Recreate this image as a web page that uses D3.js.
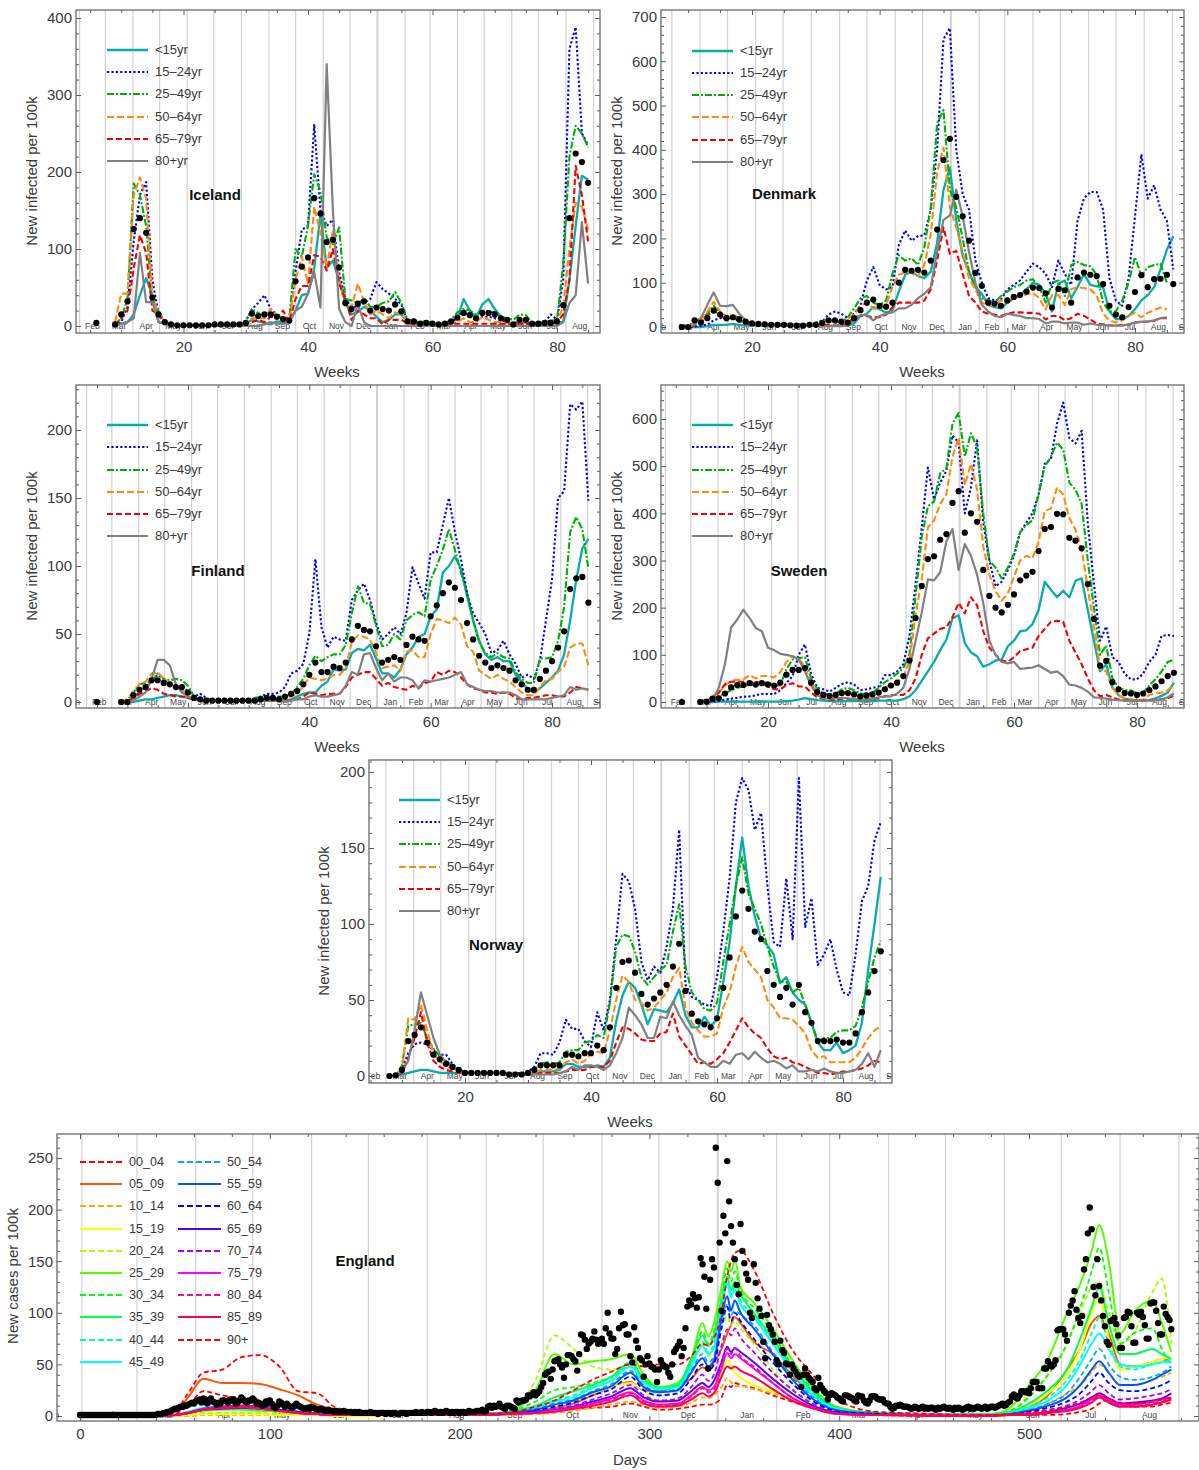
<!DOCTYPE html>
<html><head><meta charset="utf-8">
<style>html,body{margin:0;padding:0;background:#fff}text{font-family:"Liberation Sans",Arial,sans-serif}</style>
<script src="https://cdnjs.cloudflare.com/ajax/libs/d3/7.8.5/d3.min.js"></script>
</head><body><svg id="c" width="1199" height="1470"></svg>
<script>
// ---------- shared labels ----------
const ageLabels=["<15yr","15–24yr","25–49yr","50–64yr","65–79yr","80+yr"];
const monthNames=["Jan","Feb","Mar","Apr","May","Jun","Jul","Aug","Sep","Oct","Nov","Dec","Jan","Feb","Mar","Apr","May","Jun","Jul","Aug","Sep"];
const monthStartDays=[-31,0,29,60,90,121,151,182,213,243,274,304,335,366,394,425,455,486,516,547,578,608];
// ---------- Iceland (weeks 9-85) ----------
const icelandU15=[0,3,5,15,40,62,40,5,3,2,1, 1,1,1,1,1,1,1,1,1,1, 3,8,6,4,2,6,5,5,20,40, 42,75,145,75,85,60,30,15,18,25, 20,12,5,8,15,15,5,5,2,3, 3,2,2,4,10,35,20,10,28,35, 22,12,6,2,5,4,2,2,3,4, 5,5,60,130,195,190];
const iceland1524=[0,5,25,110,170,187,60,15,6,2,1, 1,1,1,1,1,2,2,2,2,3, 6,22,30,40,22,15,8,10,70,125, 130,262,150,130,138,70,35,25,25,30, 35,57,48,42,35,28,5,5,3,5, 3,2,2,5,12,20,12,8,12,12, 10,8,5,3,6,5,3,3,5,15, 8,60,360,388,250,235];
const iceland2549=[2,10,35,185,170,130,35,18,6,2,1, 1,1,1,1,1,1,1,1,1,2, 6,22,17,12,15,15,10,10,100,90, 130,197,175,115,105,128,35,33,30,35, 25,25,30,32,44,30,8,6,5,6, 4,3,4,8,18,22,20,15,20,18, 18,12,10,8,15,14,4,4,5,7, 8,80,220,260,250,232];
const iceland5064=[5,42,42,170,193,165,40,15,5,2,1, 1,1,1,1,1,1,1,1,1,2, 3,10,10,10,22,15,8,8,60,90, 55,155,120,75,125,60,25,25,55,32, 15,20,15,10,18,15,5,5,3,3, 3,2,2,3,5,10,5,5,12,8, 5,5,4,2,4,4,2,2,3,5, 6,25,100,160,155,125];
const iceland6579=[0,10,20,75,118,95,20,15,3,2,1, 1,1,1,1,1,1,1,1,1,1, 3,5,8,5,12,10,20,5,35,52, 52,92,90,72,100,55,35,8,20,15, 10,10,2,8,8,8,3,3,2,3, 2,2,2,3,3,3,3,3,3,3, 3,3,3,2,3,3,2,2,3,3, 5,15,60,208,170,110];
const iceland80=[0,3,5,10,95,31,31,5,3,1,1, 1,1,1,1,1,1,1,1,1,0, 0,0,0,2,5,3,3,5,20,25, 42,70,24,340,150,22,5,0,28,5, 0,0,0,0,0,0,0,0,0,0, 0,0,0,0,0,0,0,0,0,0, 0,0,0,0,0,0,0,0,0,0, 0,5,30,40,135,55];
const icelandDots=[4,null,null,2,15,32,126,140,121,37,15,5,2,1, 1,1,1,1,1,2,2,2,2,2, 4,16,13,15,15,12,9,7,58,77, 89,166,146,109,112,76,30,22,29,32, 20,24,22,20,28,19,6,6,3,4, 3,2,3,6,11,17,14,10,17,17, 15,10,8,2,8,8,3,3,4,4, 6,27,140,224,213,186];
// ---------- Denmark (weeks 9-86) ----------
const denmarkU15=[0,0,0,0,2,5,5,5,7,5,3, 3,3,3,3,3,3,3,3,4,4, 4,3,3,3,3,3,8,25,30,45, 40,32,38,80,118,125,115,110,125,190, 310,360,240,160,125,90,75,50,45,42, 55,65,72,85,100,95,75,35,98,105, 65,90,120,95,92,90,35,18,18,25, 40,60,72,90,130,175,205];
const denmark1524=[0,0,1,3,5,15,20,22,20,15,10, 8,7,6,6,6,6,6,6,6,6, 7,12,28,35,30,20,30,50,105,135, 95,85,90,185,218,195,205,207,265,400, 650,675,400,300,265,150,100,65,60,62, 85,95,105,125,143,135,120,90,150,120, 95,240,290,305,305,265,110,60,48,110, 250,390,290,320,265,240,130];
const denmark2549=[0,3,12,20,30,48,30,25,25,22,12, 8,7,6,6,6,5,5,5,5,5, 10,15,17,13,10,22,42,65,70,55, 50,60,120,162,150,155,140,180,270,460, 490,310,270,200,125,90,65,60,55,70, 80,90,95,105,108,90,55,100,105,70, 140,147,140,137,118,55,35,35,60,100, 158,115,135,140,143,100];
const denmark5064=[0,0,10,15,35,57,35,22,25,15,10, 8,7,6,6,5,5,5,5,4,4, 8,13,13,10,8,18,30,48,55,42, 40,50,90,118,123,122,115,140,210,350, 405,270,225,170,110,85,55,50,48,60, 55,62,70,74,77,65,40,72,72,50, 85,90,88,85,72,30,15,10,15,25, 32,22,32,38,44,40];
const denmark6579=[0,0,3,10,25,38,25,18,22,12,8, 5,5,4,4,4,4,3,3,3,3, 4,5,5,3,3,8,22,25,25,22, 22,28,45,55,55,55,55,60,85,150, 225,165,172,120,70,55,35,30,28,25, 30,33,33,32,32,30,17,25,25,15, 20,30,25,17,8,6,4,3,5,5, 10,12,12,14,20,20];
const denmark80=[0,0,5,20,50,78,48,47,50,30,15, 8,6,5,5,5,4,4,4,3,3, 2,2,2,2,2,3,15,27,27,15, 25,30,33,42,42,50,65,75,90,170, 242,252,310,250,170,100,50,35,25,22, 30,27,25,20,20,18,8,12,12,8, 10,10,5,8,5,5,3,3,3,6, 10,12,12,15,20,22];
const denmarkDots=[0,0,15,10,20,37,28,20,22,17,12, 8,7,6,5,5,5,4,3,3,5, 5,9,15,15,12,10,20,38,55,62, 48,46,55,100,129,127,129,123,150,220, 377,425,294,250,195,122,93,55,53,48, 60,68,72,80,89,88,76,44,86,83, 55,112,123,118,115,97,48,28,22,45, 79,117,90,108,109,118,97];
// ---------- Finland (weeks 9-86) ----------
const finlandU15=[0,0,0,1,2,2,3,4,5,5,4, 3,2,1,1,1,1,1,1,1,1, 1,1,1,1,1,1,1,2,4,6, 7,7,12,15,24,23,24,36,39,38, 42,32,21,21,18,24,35,40,48,50, 63,68,95,100,107,98,78,60,45,35, 31,33,30,30,20,15,9,7,10,14, 18,23,35,60,90,113,120];
const finland1524=[0,0,3,7,11,15,20,17,14,11,11, 8,4,6,3,1,1,1,1,1,1, 1,2,4,6,6,7,11,21,23,28, 50,105,55,40,48,46,45,75,82,87, 75,58,46,50,55,50,65,99,87,76, 110,110,130,150,125,105,80,65,58,50, 36,38,45,35,28,18,20,17,30,60, 90,150,155,219,215,221,148];
const finland2549=[0,1,7,13,14,15,21,17,16,17,16, 12,4,2,1,1,1,1,1,1,1, 1,3,4,3,3,4,4,6,11,17, 27,34,30,33,35,35,42,65,85,73, 72,56,41,42,50,46,60,64,66,63, 90,100,112,127,112,95,80,60,44,36, 33,36,33,32,22,17,14,14,32,32, 33,45,70,125,136,127,98];
const finland5064=[0,2,8,13,15,21,22,17,14,12,9, 6,3,1,1,1,1,1,1,1,1, 1,2,1,2,2,2,3,4,6,12, 18,17,16,17,20,20,25,44,49,48, 46,36,25,26,27,23,37,38,33,33, 50,61,60,58,62,57,41,37,23,20, 17,20,17,15,11,7,5,5,11,16, 17,22,26,40,43,43,27];
const finland6579=[0,0,3,6,8,10,9,6,5,4,4, 3,2,1,1,1,1,1,1,1,1, 1,1,1,1,1,1,1,1,2,4, 7,6,5,6,6,6,11,18,20,22, 22,17,12,14,11,10,9,12,10,14, 15,22,20,23,22,18,13,10,9,7, 7,6,7,6,3,2,3,3,4,5, 5,4,4,7,11,10,9];
const finland80=[0,0,1,4,7,17,31,31,27,13,7, 4,2,1,1,1,1,1,1,1,1, 1,1,1,1,1,1,1,1,2,2, 4,5,4,4,5,6,12,22,20,35, 36,25,16,21,15,18,18,16,10,16, 15,16,17,18,20,22,13,11,9,8, 8,7,7,7,5,2,2,2,2,2, 3,4,5,11,9,10,9];
const finlandDots=[0,null,null,null,0,0,5,9,11,16,16,14,13,11,11, 7,3,2,1,1,1,1,1,1,1, 1,1,2,3,3,2,4,6,8,13, 20,29,22,22,26,25,29,46,56,53, 52,41,29,31,33,31,42,48,46,45, 63,71,80,88,84,75,58,46,34,29, 25,27,25,23,16,13,9,9,17,23, 30,40,52,83,91,92,73];
// ---------- Sweden (weeks 9-86) ----------
const swedenU15=[0,0,0,1,1,1,1,1,1,1,1, 1,1,1,2,3,5,8,6,4,3, 2,2,2,2,2,2,2,2,3,3, 3,3,6,12,25,45,65,85,110,132, 177,184,125,105,97,75,80,88,90,118, 130,150,152,165,195,255,238,222,236,222, 257,262,195,130,65,80,30,15,7,5, 3,3,4,8,13,20,41];
const sweden1524=[0,0,1,2,5,7,9,11,12,14,17, 17,17,25,40,55,100,122,60,30,27, 22,30,38,42,37,25,27,30,33,57, 57,65,80,140,250,370,497,430,465,490, 565,550,400,455,555,380,300,245,255,280, 310,360,380,400,440,505,515,590,635,560, 548,575,380,250,130,160,95,85,60,48, 48,60,85,100,140,142,140];
const sweden2549=[0,1,7,13,18,25,30,33,37,35,40, 42,35,35,70,90,93,95,50,28,18, 15,18,27,30,25,18,17,20,30,42, 50,60,72,100,225,350,415,425,485,495, 590,613,520,570,540,400,300,285,262,285, 315,360,375,385,440,500,520,550,535,465, 450,420,300,200,100,120,50,30,25,25, 18,20,35,48,65,85,90];
const sweden5064=[0,3,12,20,35,45,47,48,57,50,55, 55,52,63,85,97,92,75,40,22,15, 12,12,18,18,15,10,10,14,20,30, 38,42,55,85,185,260,370,385,420,440, 520,560,460,505,450,330,270,235,215,230, 265,300,310,305,340,405,410,455,440,390, 365,325,240,160,70,65,30,15,7,5, 3,5,15,18,20,25,38];
const sweden6579=[0,2,10,20,38,43,43,43,42,43,40, 33,27,27,36,40,33,33,20,10,7, 5,5,7,7,6,5,5,6,8,12, 15,15,15,25,50,100,135,145,155,158, 180,210,188,222,205,150,115,100,88,85, 95,108,112,115,140,155,170,172,170,130, 105,80,50,25,12,15,10,5,3,3, 3,3,3,4,6,8,14];
const sweden80=[0,0,5,30,80,158,175,196,178,157,150, 115,110,102,100,97,90,65,35,15,8, 7,8,9,8,6,5,5,7,10,12, 12,18,30,70,130,190,260,258,275,340, 367,280,335,310,270,210,130,100,85,82, 85,70,72,73,78,70,62,65,55,37, 35,30,22,10,9,7,5,4,3,3, 3,3,3,4,5,10,18];
const swedenDots=[0,null,null,0,1,7,8,18,31,36,36,40,37,40, 37,35,41,58,68,68,72,41,21,15, 13,15,19,19,16,12,14,16,20,27, 35,41,55,88,178,246,303,309,344,356, 422,447,359,400,382,280,225,200,190,206, 228,258,268,276,320,367,371,399,398,348, 342,326,250,176,77,87,42,27,19,18, 15,18,25,33,44,55,62];
// ---------- Norway (weeks 8-86) ----------
const norwayU15=[0,0,1,2,3,4,4,3,2,2,2,2, 2,2,2,2,2,2,2,2,2,1, 1,2,3,3,3,4,8,8,6,6, 6,7,6,12,36,53,62,58,47,34, 44,43,42,48,57,40,32,32,39,33, 37,62,88,125,157,125,105,90,86,80, 61,65,55,50,47,35,22,17,17,22, 15,17,20,35,70,100,131];
const norway1524=[0,0,5,15,21,22,21,17,14,14,8,4, 3,2,2,2,2,2,2,2,2,2, 3,6,15,15,14,22,37,31,31,23, 19,42,30,50,90,133,128,110,75,63, 72,68,85,110,162,60,52,50,47,46, 65,95,130,180,196,188,162,173,125,88, 85,130,90,196,98,117,73,80,90,70, 55,53,80,115,125,155,167];
const norway2549=[0,0,7,33,34,35,25,18,13,10,7,4, 2,2,2,2,2,2,2,2,2,2, 2,4,8,9,8,9,16,17,17,22, 23,27,25,48,85,93,92,82,65,60, 65,70,73,95,113,72,55,50,44,43, 48,75,100,125,144,120,110,100,85,72, 62,62,55,58,47,35,23,25,25,29, 30,30,33,45,62,78,89];
const norway5064=[0,0,5,38,37,47,30,15,10,6,5,3, 2,2,2,2,2,2,2,2,2,1, 1,2,4,4,4,5,9,11,8,10, 15,16,15,30,50,66,62,50,48,43, 45,50,55,65,71,45,35,30,26,26, 28,45,55,72,85,75,70,65,50,45, 38,38,37,33,28,17,12,13,9,9, 9,9,12,18,25,30,33];
const norway6579=[0,0,2,12,25,42,22,10,6,4,3,2, 2,2,2,2,2,2,1,1,1,1, 1,1,2,2,2,2,3,4,4,4, 6,6,6,10,22,32,31,28,24,23, 23,28,29,41,26,20,14,8,9,8, 11,15,22,30,38,32,28,25,18,13, 11,12,9,8,6,4,2,2,1,2, 3,3,4,5,7,10,9];
const norway80=[0,0,3,10,30,55,40,25,14,9,6,3, 2,2,2,2,2,2,1,1,1,1, 1,1,1,1,1,2,3,6,4,7, 7,6,4,7,15,25,45,40,34,25, 25,39,38,49,40,33,27,12,9,6, 6,10,8,14,15,11,16,12,9,10, 8,5,7,3,3,4,3,5,3,2, 2,3,4,8,15,6,17];
const norwayDots=[0,0.5,4,23,27,32,22,14,11,8,6,4, 2,2,2,2,2,2,2,1,1,1, 2,4,7,7,7,7,14,14,13,15, 15,20,17,32,58,75,76,68,54,47, 51,55,60,72,87,56,41,36,34,32, 38,58,78,105,122,110,95,90,69,60, 52,58,47,60,42,35,23,23,23,24, 22,22,28,42,55,69,82];
// ---------- England ----------
const englandLabels=["00_04","05_09","10_14","15_19","20_24","25_29","30_34","35_39","40_44","45_49","50_54","55_59","60_64","65_69","70_74","75_79","80_84","85_89","90+"];
const englandColors=["#ff0000","#ff5500","#ffaa00","#ffff00","#aaff00","#55ff00","#00ff00","#00ff55","#00ffaa","#00ffff","#00aaff","#0055ff","#0000ff","#5500ff","#aa00ff","#ff00ff","#ff00aa","#ff0055","#ff0000"];
const englandKnots=[0,40,50,57,65,75,85,95,105,115,125,135,150, 180,210,225,240,250,260,270,280,290,297,305,315, 322,328,331,334,338,341,343,345,348,355, 365,375,385, 400,420,450,480,490,500,510,520,527,533,537,542,548,555,565,570,575];
const e0004=[0,0,2,10,24,20,17,15,12,9,6,4,2, 1,1,2,3,5,7,8,9,12,9,6,7, 9,11,11,12,18,30,28,32,30,27, 20,14,9, 4,1,0,0,1,1,1,2,4,7,12,16,12,9,9,11,13];
const e0509=[0,0,4,18,36,32,32,31,26,20,11,6,3, 2,2,3,5,8,12,20,28,33,25,24,30, 36,47,45,52,65,80,88,96,90,72, 60,40,22, 8,3,2,2,3,8,20,45,65,90,97,80,50,48,52,55,52];
const e1014=[0,0,0,0,1,1,1,1,1,1,1,0,0, 1,1,1,2,3,5,8,11,14,11,8,9, 13,18,17,20,28,37,33,29,29,26, 22,15,9, 3,1,1,1,2,6,12,22,30,42,50,42,30,30,35,38,42];
const e1519=[0,0,0,1,2,2,2,2,1,1,1,0,0, 1,1,2,6,10,16,22,28,32,25,12,14, 22,26,25,28,40,55,48,42,37,30, 24,16,10, 3,1,1,1,3,10,22,40,65,100,115,75,45,48,52,55,58];
const e2024=[0,0,1,2,3,3,3,3,2,2,1,1,1, 1,1,3,35,78,65,48,45,47,30,20,25, 50,70,58,65,85,97,88,92,85,70, 45,25,15, 5,2,1,1,5,20,40,70,100,125,130,100,70,80,120,133,70];
const e2529=[0,0,1,3,5,6,6,5,4,3,2,1,1, 1,2,4,25,60,50,53,55,60,40,28,32, 55,90,77,90,125,150,140,151,125,110, 85,55,30, 8,3,2,2,8,30,55,100,128,160,185,150,80,100,112,90,62];
const e3034=[0,0,1,3,6,7,7,6,5,3,2,1,1, 1,2,4,14,25,28,32,38,48,35,26,30, 52,82,70,82,115,143,130,140,122,105, 80,50,28, 7,3,2,2,5,18,40,70,105,140,163,120,70,80,85,65,50];
const e3539=[0,0,1,3,6,8,8,7,5,4,2,1,1, 1,2,4,10,18,24,30,38,52,36,27,30, 55,78,68,78,112,135,122,130,118,100, 75,48,26, 7,3,2,2,4,12,25,45,75,105,125,90,60,60,65,60,55];
const e4044=[0,0,1,4,7,8,9,8,6,4,2,1,1, 1,2,3,9,15,20,28,35,50,34,27,29, 50,72,62,70,105,130,118,125,112,98, 72,46,24, 6,2,2,1,3,9,18,35,55,80,95,70,48,45,50,52,55];
const e4549=[0,0,1,4,8,9,9,8,6,4,2,1,1, 1,2,3,8,14,18,27,34,48,33,26,28, 48,68,60,66,102,128,115,122,108,95, 70,44,22, 6,2,2,1,3,8,15,30,50,70,80,65,50,48,50,52,52];
const e5054=[0,0,1,4,7,9,10,9,6,4,2,1,1, 1,2,3,7,12,16,24,31,44,30,24,26, 44,60,52,58,90,108,98,102,98,88, 62,38,20, 5,2,1,1,2,6,12,22,38,55,65,50,38,35,38,42,48];
const e5559=[0,0,1,3,7,9,10,9,6,4,2,1,1, 1,1,3,6,11,15,23,29,42,28,23,25, 42,56,48,54,95,116,102,112,100,85, 60,36,18, 5,2,1,1,2,5,10,18,30,45,53,42,30,30,35,40,45];
const e6064=[0,0,1,3,6,8,9,8,6,4,2,1,1, 1,1,2,5,9,13,20,26,38,25,20,22, 36,50,44,50,85,106,92,100,92,75, 52,32,16, 4,2,1,1,1,4,8,14,22,34,42,32,25,24,27,30,35];
const e6569=[0,0,1,3,6,7,8,7,5,3,2,1,1, 1,1,2,4,6,9,14,19,27,18,14,15, 24,32,28,34,52,67,62,66,62,52, 36,22,11, 3,1,1,1,1,2,4,8,12,18,22,17,12,13,15,17,22];
const e7074=[0,0,1,3,6,8,8,7,5,3,2,1,1, 1,1,2,4,7,10,16,22,30,20,15,17, 28,40,34,40,68,84,78,85,76,62, 42,26,13, 3,1,1,1,1,3,6,10,16,24,30,22,16,17,20,22,26];
const e7579=[0,0,1,3,6,8,9,7,5,3,2,1,1, 1,1,2,3,5,8,12,17,23,15,11,12, 20,28,25,28,46,61,56,60,56,46, 32,18,9, 2,1,1,1,1,2,3,6,10,16,20,15,11,11,14,16,18];
const e8084=[0,0,1,3,7,9,10,8,5,3,2,1,1, 1,1,2,3,5,8,12,16,22,14,10,11, 19,27,23,26,50,65,60,66,58,48, 32,18,9, 2,1,1,0,1,2,3,5,9,15,19,14,10,10,12,14,17];
const e8589=[0,0,1,3,6,8,9,8,5,3,2,1,1, 1,1,2,3,4,7,10,14,20,12,9,10, 16,22,19,22,38,48,46,48,44,38, 26,15,8, 2,1,0,0,1,1,3,5,8,13,18,13,9,9,11,13,16];
const e90=[0,1,5,22,42,45,57,59,48,24,22,8,4, 2,2,3,9,15,25,35,43,50,48,50,50, 58,70,68,75,100,135,150,158,160,142, 100,65,42, 15,4,2,1,2,3,5,9,13,18,20,17,13,12,14,16,18];
const englandSeries=[e0004,e0509,e1014,e1519,e2024,e2529,e3034,e3539,e4044,e4549,e5054,e5559,e6064,e6569,e7074,e7579,e8084,e8589,e90];
const englandDash=[1,0,1,0,1,0,1,0,1,0,1,0,1,0,1,0,1,0,1];
// daily totals, three runs with their first days
const dotsFromDay0=[1,1,1,1,1,1,1,1,1,1, 1,1,1,1,1,1,1,1,1,1, 1,1,1,1,1,1,1,1,1,1, 1,1,1,1,1,1,1,1,1,1,
1,2,2,2,3,3,4,4,5,6, 7,7,8,9,9,10,10,11,12,13, 12,14,15,16,13,17,16,12,14,17, 14,13,11,13,12,15,15,14,13,16,
15,16,12,13,15,18,16,14,13,15, 15,17,15,12,13,12,10,11,14,12, 15,12,9,8,10,14,13,11,9,12, 10,9,8,10,12,10,9,8,7,7,
8,7,9,8,7,6,6,7,6,5, 5,6,5,5,4,5,4,4,4,5, 4,4,4,4,3,4,3,4,3,3, 3,3,3,4,3,3,3,2,3,3,
3,2,3,3,2,3,3,2,2,3, 3,3,2,3,3,3,3,4,3,3, 4,3,3,4,4,3,4,5,4,3, 4,3,4,5,4,3,4,3,4,4,
3,4,4,3,4,5,4,4,4,5, 5,5,6,4,5,9,10,8,10,9, 10,12,9,8,7,10,10,9,8,7, 15,13,14,15,15,16,20,19,21,23,
20,22,24,28,32,40,42,43,36,45, 53,54,55,50,47,37,50,59,59,58, 55,53,44,60,79,78,74,65,70,72, 75,82,74,70];
const dotsFromDay274=[71,75,70,85,100,80,75,75,60,65,85,101,88,89,79,79,58,52,86,73,66,56,54,38,50,58,51,48,47,45,33,45,54,50,48,47,42,38,50,62,65,68,72,58,66,85,106,112,108,118,114,105,115,153,147,135,104,46,132,152,144,260,226,168,102,194,177,247,208,184,168,152,127,118,186,160,148,138,132,100,95,147,129,114,104,97,72,56,98,88,84,79,72,54,50,73,64,61,51,50,40,50,46,43,40,38,28,40,46,40,37,35,33,27,25,37,30,27,24,22,16,20,22,21,20,18,17,15,14,20,20,19,18,17,15,14,20,19,19,15,13,12,15,19,19,19,17,16,16,16,13,12,12,9,7,8,10,10,11,10,9,9,
9,8,7,8,9,8,7,8,9,7,8,7,8,8,7,6,8,7,8,9,8,7,8,7,6,8,7,8,7,6,7,8,9,7,8,7,8,9,8,7,8,9,7,8,9,
9,8,9,10,11,12,10,11,13,14];
const dotsFromDay491=[19,21,18,17,20,24,24,23,24,22,27,33,33,33,27,27,27,46,46,53,50,48,50,54,83,84,84,84,79,73,100,107,112,121,103,95,90,97,142,152,177,202,181,125,117,152,126,112,97,87,72,69,92,93,95,89,78,66,66,95,96,101,100,87,71,71,100,98,101,96,88,75,75,109,110,110,102,90,79,79,106,99,96,93,84];
const dotRunStarts=[0,274,491];

// ---------- panel table (built from the arrays above) ----------
const ageStyles=[
 {c:"#0aabab",d:null,w:2.3},{c:"#0000f0",d:"2.2 2.2",w:2.1},{c:"#00b000",d:"7 2 2 2",w:2.1},
 {c:"#ff8a10",d:"7 3",w:2.1},{c:"#f00000",d:"6 3",w:2.1},{c:"#808080",d:null,w:2.2}];
const panels=[
 {name:"Iceland",series:[icelandU15,iceland1524,iceland2549,iceland5064,iceland6579,iceland80],start:9,dots:icelandDots,dotStart:6,
  L:76,R:600,T:10,B:333,x20:183.5,x80:557,y0:326,yv:400,ypx:18,maj:100,min:20,lx:107,ly:[50,72,94,117,139,161],tx:215,ty:195,xl:337,xly:372,yx:32,yy:171},
 {name:"Denmark",series:[denmarkU15,denmark1524,denmark2549,denmark5064,denmark6579,denmark80],start:9,dots:denmarkDots,dotStart:9,
  L:661,R:1184,T:10,B:333,x20:752,x80:1135,y0:327,yv:700,ypx:17,maj:100,min:20,lx:692,ly:[51,73,95,117,140,162],tx:784,ty:194,xl:922,xly:372,yx:617,yy:171},
 {name:"Finland",series:[finlandU15,finland1524,finland2549,finland5064,finland6579,finland80],start:9,dots:finlandDots,dotStart:5,
  L:76,R:600,T:385,B:708,x20:188,x80:552,y0:702,yv:200,ypx:430,maj:50,min:10,lx:107,ly:[425,447,470,492,514,536],tx:218,ty:571,xl:337,xly:747,yx:32,yy:546},
 {name:"Sweden",series:[swedenU15,sweden1524,sweden2549,sweden5064,sweden6579,sweden80],start:9,dots:swedenDots,dotStart:6,
  L:661,R:1184,T:385,B:708,x20:768,x80:1137,y0:702,yv:600,ypx:419,maj:100,min:20,lx:692,ly:[425,447,470,492,514,536],tx:799,ty:571,xl:922,xly:747,yx:617,yy:546},
 {name:"Norway",series:[norwayU15,norway1524,norway2549,norway5064,norway6579,norway80],start:8,dots:norwayDots,dotStart:8,
  L:369,R:892,T:760,B:1083,x20:465,x80:843,y0:1076,yv:200,ypx:772,maj:50,min:10,lx:399,ly:[800,822,844,867,889,911],tx:496,ty:945,xl:630,xly:1122,yx:324,yy:921}
];
const svg=d3.select("#c");
const defs=svg.append("defs");
const INK="#3a3a3a", FRAME="#6a6a6a", GRID="#d2d2d2";
const fmt=d3.format("d");

function drawAxes(g,x,y,P,xMaj,xMin,yMaj,yMin,pad){
  const strip=s=>{s.select(".domain").remove();s.selectAll("line").attr("stroke","#333").attr("stroke-width",.8);};
  const labelled=s=>{s.selectAll("text").attr("font-size",15).attr("fill",INK);};
  g.append("g").attr("transform",`translate(0,${P.B})`).call(d3.axisBottom(x).tickValues(xMaj).tickSizeInner(-5).tickSizeOuter(0).tickPadding(pad).tickFormat(fmt)).call(strip).call(labelled);
  g.append("g").attr("transform",`translate(0,${P.B})`).call(d3.axisBottom(x).tickValues(xMin).tickSizeInner(-3).tickSizeOuter(0).tickFormat("")).call(strip);
  g.append("g").attr("transform",`translate(0,${P.T})`).call(d3.axisTop(x).tickValues(xMaj).tickSizeInner(-5).tickSizeOuter(0).tickFormat("")).call(strip);
  g.append("g").attr("transform",`translate(0,${P.T})`).call(d3.axisTop(x).tickValues(xMin).tickSizeInner(-3).tickSizeOuter(0).tickFormat("")).call(strip);
  g.append("g").attr("transform",`translate(${P.L},0)`).call(d3.axisLeft(y).tickValues(yMaj).tickSizeInner(-5).tickSizeOuter(0).tickPadding(4).tickFormat(fmt)).call(strip).call(labelled);
  g.append("g").attr("transform",`translate(${P.L},0)`).call(d3.axisLeft(y).tickValues(yMin).tickSizeInner(-3).tickSizeOuter(0).tickFormat("")).call(strip);
  g.append("g").attr("transform",`translate(${P.R},0)`).call(d3.axisRight(y).tickValues(yMaj).tickSizeInner(-5).tickSizeOuter(0).tickFormat("")).call(strip);
  g.append("g").attr("transform",`translate(${P.R},0)`).call(d3.axisRight(y).tickValues(yMin).tickSizeInner(-3).tickSizeOuter(0).tickFormat("")).call(strip);
  g.append("rect").attr("x",P.L).attr("y",P.T).attr("width",P.R-P.L).attr("height",P.B-P.T).attr("fill","none").attr("stroke",FRAME).attr("stroke-width",1.3);
}
function months(g,P,x,toAxis,labelY,clip){
  const inside=d3.range(monthStartDays.length).map(i=>({v:toAxis(monthStartDays[i]),i}));
  g.append("g").selectAll("line").data(inside.filter(d=>x(d.v)>P.L&&x(d.v)<P.R)).join("line")
   .attr("x1",d=>x(d.v)).attr("x2",d=>x(d.v)).attr("y1",P.T).attr("y2",P.B)
   .attr("stroke",GRID).attr("stroke-width",d=>d.i===12?2:1.2);
  const m=g.append("g").attr("clip-path",`url(#${clip})`);
  m.selectAll("text").data(monthNames.map((n,i)=>({n,v:toAxis((monthStartDays[i]+monthStartDays[i+1])/2)})).filter(d=>x(d.v)+7>P.L&&x(d.v)-7<P.R)).join("text")
   .attr("x",d=>x(d.v)).attr("y",labelY).attr("text-anchor","middle").attr("dy",".35em")
   .attr("font-size",8.5).attr("fill","#444").text(d=>d.n);
}
function clipFor(id,P){defs.append("clipPath").attr("id",id).append("rect").attr("x",P.L).attr("y",P.T).attr("width",P.R-P.L).attr("height",P.B-P.T);}
function axisTitles(g,xt,xa,xb,yt,ya,yb){
  g.append("text").attr("x",xa).attr("y",xb).attr("text-anchor","middle").attr("dy",".35em").attr("font-size",15).attr("fill",INK).text(xt);
  g.append("text").attr("transform",`translate(${ya},${yb}) rotate(-90)`).attr("text-anchor","middle").attr("dy",".35em").attr("font-size",15).attr("fill",INK).text(yt);
}

panels.forEach((P,pi)=>{
  const g=svg.append("g");
  const clip="clip"+pi; clipFor(clip,P);
  const x=d3.scaleLinear().domain([20,80]).range([P.x20,P.x80]);
  const y=d3.scaleLinear().domain([0,P.yv]).range([P.y0,P.ypx]);
  const topVal=y.invert(P.T);
  months(g,P,x,d=>3.3+d/7,P.y0,clip);
  const marks=g.append("g").attr("clip-path",`url(#${clip})`);
  const line=d3.line().x((v,i)=>x(P.start+i)).y(v=>y(v));
  P.series.forEach((s,i)=>{
    const st=ageStyles[i];
    marks.append("path").attr("d",line(s)).attr("fill","none").attr("stroke",st.c).attr("stroke-width",st.w).attr("stroke-dasharray",st.d).attr("stroke-linejoin","round");
  });
  marks.append("g").selectAll("circle").data(P.dots.map((v,i)=>({v,w:P.dotStart+i})).filter(d=>d.v!==null)).join("circle")
    .attr("cx",d=>x(d.w)).attr("cy",d=>y(d.v)).attr("r",3.1).attr("fill","#000");
  const xMaj=[20,40,60,80];
  const xMin=d3.range(0,91,5).filter(v=>x(v)>P.L&&x(v)<P.R&&v%20!==0);
  const yMaj=d3.range(0,topVal,P.maj);
  const yMin=d3.range(0,topVal,P.min).filter(v=>v%P.maj!==0);
  drawAxes(g,x,y,P,xMaj,xMin,yMaj,yMin,8);
  axisTitles(g,"Weeks",P.xl,P.xly,"New infected per 100k",P.yx,P.yy);
  const leg=g.append("g");
  ageLabels.forEach((lab,i)=>{
    const st=ageStyles[i];
    leg.append("line").attr("x1",P.lx).attr("x2",P.lx+41).attr("y1",P.ly[i]).attr("y2",P.ly[i]).attr("stroke",st.c).attr("stroke-width",st.w).attr("stroke-dasharray",st.d);
    leg.append("text").attr("x",P.lx+48).attr("y",P.ly[i]-0.5).attr("dy",".35em").attr("font-size",13).attr("fill",INK).text(lab);
  });
  g.append("text").attr("x",P.tx).attr("y",P.ty).attr("text-anchor","middle").attr("dy",".35em").attr("font-size",15).attr("font-weight","bold").attr("fill","#111").text(P.name);
});

// ---------- England ----------
(function(){
  const P={L:57,R:1199,T:1134,B:1421};
  const g=svg.append("g");
  clipFor("clipE",P);
  const x=d3.scaleLinear().domain([0,500]).range([80,1029]);
  const y=d3.scaleLinear().domain([0,250]).range([1416,1158]);
  months(g,P,x,d=>d+1,1415,"clipE");
  const marks=g.append("g").attr("clip-path","url(#clipE)");
  const line=d3.line().x((v,i)=>x(englandKnots[i])).y(v=>y(v)).curve(d3.curveMonotoneX);
  englandSeries.forEach((s,i)=>{
    marks.append("path").attr("d",line(s)).attr("fill","none").attr("stroke",englandColors[i]).attr("stroke-width",englandDash[i]?1.8:2).attr("stroke-dasharray",englandDash[i]?"5 3":null);
  });
  const runs=[dotsFromDay0,dotsFromDay274,dotsFromDay491];
  runs.forEach((r,k)=>{
    marks.append("g").selectAll("circle").data(r.map((v,i)=>({v,d:dotRunStarts[k]+i}))).join("circle")
      .attr("cx",d=>x(d.d)).attr("cy",d=>y(d.v)).attr("r",3.2).attr("fill","#000");
  });
  drawAxes(g,x,y,P,[0,100,200,300,400,500],d3.range(0,590,20).filter(v=>v%100!==0),[0,50,100,150,200,250],d3.range(0,275,10).filter(v=>v%50!==0),7);
  axisTitles(g,"Days",630,1460,"New cases per 100k",13,1276);
  const ly=[1162,1184,1206,1229,1251,1273,1295,1317,1340,1362];
  englandLabels.forEach((lab,i)=>{
    const col=i<10?0:1, row=i<10?i:i-10;
    const x0=col?178:80, tx=col?227:129, w=col?43:42;
    g.append("line").attr("x1",x0).attr("x2",x0+w).attr("y1",ly[row]).attr("y2",ly[row]).attr("stroke",englandColors[i]).attr("stroke-width",1.9).attr("stroke-dasharray",englandDash[i]?"6 3":null);
    g.append("text").attr("x",tx).attr("y",ly[row]).attr("dy",".35em").attr("font-size",12.6).attr("fill",INK).text(lab);
  });
  g.append("text").attr("x",365).attr("y",1261).attr("text-anchor","middle").attr("dy",".35em").attr("font-size",15).attr("font-weight","bold").attr("fill","#111").text("England");
})();
</script></body></html>
